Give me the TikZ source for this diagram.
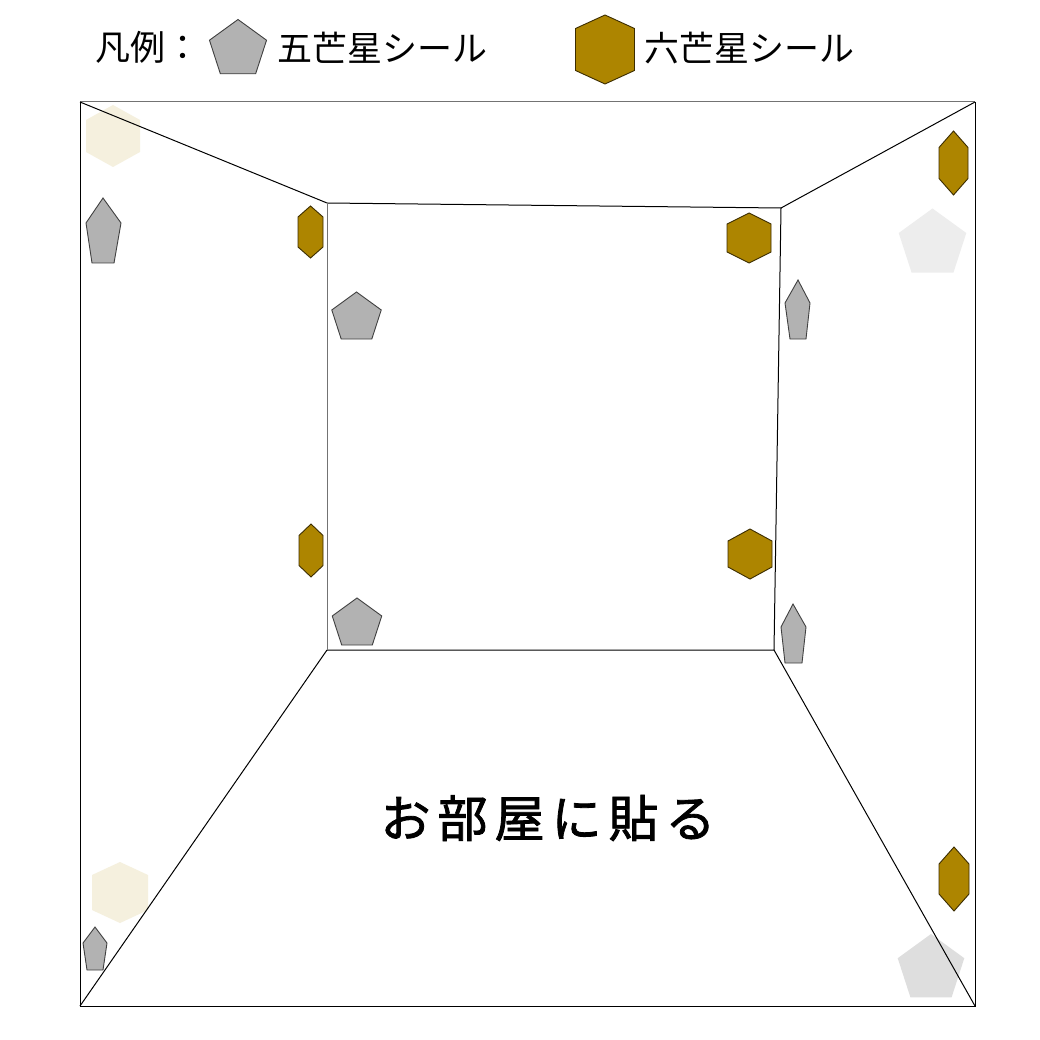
\documentclass[tikz,border=0pt]{standalone}
\usepackage{fontspec}
\newfontfamily\cjk{Noto Sans CJK JP}
\newfontfamily\cjkb{Noto Sans CJK JP}[FakeBold=1.6]
\begin{document}
\begin{tikzpicture}[x=1pt,y=-1pt,
  wall/.style={draw=black,line width=1pt},
  wallgrey/.style={draw=black!55,line width=1pt},
  pentS/.style={fill=black!30,draw=black!75,line width=0.9pt,line join=miter},
  hexS/.style={fill={rgb,255:red,173;green,133;blue,0},draw={rgb,255:red,60;green,45;blue,0},line width=0.9pt},
  fadehex/.style={draw=none,fill={rgb,255:red,245;green,240;blue,222}},
  fadepentA/.style={draw=none,fill=black!7},
  fadepentB/.style={draw=none,fill=black!13},
  lbl/.style={inner sep=0pt,font=\cjk\fontsize{35}{40}\selectfont,anchor=west},
  big/.style={inner sep=0pt,font=\cjkb\fontsize{50}{56}\selectfont}
]
\newcommand\hexa[6]{\path[#1] (#2,#3-#5) -- (#2+#4,#3-#6) -- (#2+#4,#3+#6) -- (#2,#3+#5) -- (#2-#4,#3+#6) -- (#2-#4,#3-#6) -- cycle;}
\newcommand\penta[4]{\path[#1,shift={(#2,#3)},scale=#4] (0,-1) -- (0.951,-0.309) -- (0.588,0.809) -- (-0.588,0.809) -- (-0.951,-0.309) -- cycle;}
\useasboundingbox (0,0) rectangle (1040,1040);
\fill[white] (0,0) rectangle (1040,1040);

% legend
\node[lbl] (legtitle) at (95,47) {凡例：};
\penta{pentS}{238}{49.5}{30}
\node[lbl] (leg5) at (277,48) {五芒星シール};
\hexa{hexS}{605}{49.5}{29.5}{34.5}{21}
\node[lbl] (leg6) at (644,48) {六芒星シール};

% room corners
\coordinate (OTL) at (80,102);
\coordinate (OTR) at (975,102);
\coordinate (OBR) at (975,1006);
\coordinate (OBL) at (80,1006);
\coordinate (ITL) at (327,203);
\coordinate (ITR) at (781,208);
\coordinate (IBR) at (774,650);
\coordinate (IBL) at (327,650);

% faded stickers (under the lines)
\hexa{fadehex}{113}{136}{27}{31}{16}
\hexa{fadehex}{120}{892.5}{28}{30.5}{17.5}
\penta{fadepentA}{932.5}{244}{35.5}
\penta{fadepentB}{931}{969}{35}

% room lines
\draw[wallgrey] (OTL) -- (OTR);
\draw[wall] (OTR) -- (OBR) -- (OBL) -- (OTL);
\draw[wall] (OTL) -- (ITL);
\draw[wall] (OTR) -- (ITR);
\draw[wall] (OBL) -- (IBL);
\draw[wall] (OBR) -- (IBR);
\draw[wall] (ITL) -- (ITR) -- (IBR) -- (IBL);
\draw[wallgrey] (IBL) -- (ITL);

% grey pentagons
\draw[pentS] (103,198) -- (121,223) -- (114,263) -- (92,263) -- (86,223) -- cycle;
\penta{pentS}{356.5}{318}{26}
\penta{pentS}{357}{624}{26}
\draw[pentS] (798,280) -- (810,303) -- (806,339) -- (790,339) -- (785,303) -- cycle;
\draw[pentS] (793,604) -- (806,627) -- (802,663) -- (785,663) -- (781,627) -- cycle;
\draw[pentS] (95,927) -- (107,943) -- (103,970) -- (87,970) -- (83,943) -- cycle;

% olive hexagons
\hexa{hexS}{310.5}{232}{12.5}{26}{15}
\hexa{hexS}{311}{550.5}{12}{26.5}{15}
\hexa{hexS}{749}{238}{22}{25}{14}
\hexa{hexS}{750}{554}{22}{25}{13}
\hexa{hexS}{953.5}{163}{14.5}{32}{15.5}
\hexa{hexS}{954}{879}{15}{32}{15}

% title
\node[big] (title) at (548,818) {お\hspace{7pt}部\hspace{7pt}屋\hspace{7pt}に\hspace{7pt}貼\hspace{7pt}る};
\end{tikzpicture}
\end{document}
